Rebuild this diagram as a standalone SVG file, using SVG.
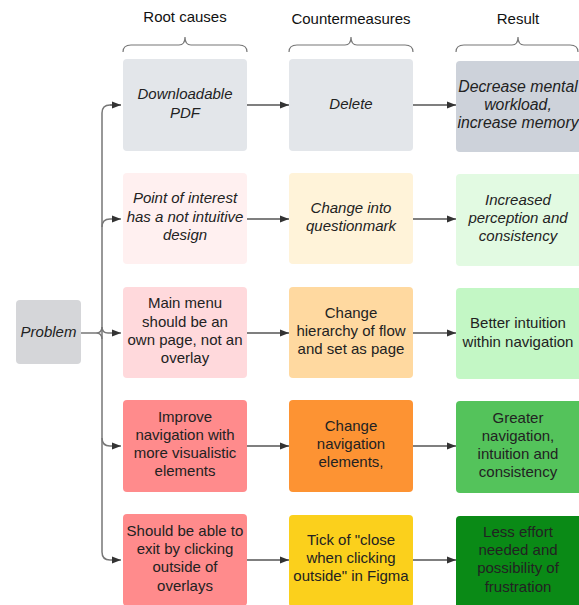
<svg xmlns="http://www.w3.org/2000/svg" width="579" height="605" viewBox="0 0 579 605">
<defs>
<marker id="ah" markerUnits="userSpaceOnUse" markerWidth="10" markerHeight="8" refX="9" refY="4" orient="auto">
<path d="M0,0.5 L9,4 L0,7.5 z" fill="#333"/>
</marker>
<style>
text{font-family:"Liberation Sans",Arial,sans-serif;font-size:15px;fill:#222;text-anchor:middle}
.i{font-style:italic}
.big{font-size:15.8px}
.h{fill:#111}
.brace{fill:none;stroke:#777;stroke-width:1.2}
.edge{fill:none;stroke:#555;stroke-width:1.4}
.trunk{fill:none;stroke:#777;stroke-width:1.5}
</style>
</defs>
<rect width="579" height="605" fill="#fff"/>

<g id="headers">
<text class="h" x="185" y="22">Root causes</text>
<text class="h" x="351" y="24">Countermeasures</text>
<text class="h" x="518" y="24">Result</text>
<path class="brace" d="M123,52 Q123,45 131,45 H179 Q185,45 185,37 Q185,45 191,45 H239 Q247,45 247,52"/>
<path class="brace" d="M289,52 Q289,45 297,45 H345 Q351,45 351,37 Q351,45 357,45 H405 Q413,45 413,52"/>
<path class="brace" d="M456,52 Q456,45 464,45 H512 Q518,45 518,37 Q518,45 524,45 H570 Q578,45 578,52"/>
</g>

<g id="connectors">
<path class="trunk" d="M81,333 H96 Q102,333 102,327 M96,333 Q102,333 102,339"/>
<path class="trunk" d="M121,105 H110 Q102,105 102,113 V552 Q102,560 110,560 H121" marker-end="url(#ah)"/>
<path class="trunk" d="M102,227 Q102,219 110,219 H121" marker-end="url(#ah)"/>
<path class="trunk" d="M102,327 Q102,333 108,333 H121" marker-end="url(#ah)"/>
<path class="trunk" d="M102,438 Q102,446 110,446 H121" marker-end="url(#ah)"/>
<path class="trunk" d="M110,105 H121" marker-end="url(#ah)"/>
<path class="edge" d="M247,105 H289" marker-end="url(#ah)"/>
<path class="edge" d="M413,105 H456" marker-end="url(#ah)"/>
<path class="edge" d="M247,219 H289" marker-end="url(#ah)"/>
<path class="edge" d="M413,219 H456" marker-end="url(#ah)"/>
<path class="edge" d="M247,333 H289" marker-end="url(#ah)"/>
<path class="edge" d="M413,333 H456" marker-end="url(#ah)"/>
<path class="edge" d="M247,446 H289" marker-end="url(#ah)"/>
<path class="edge" d="M413,446 H456" marker-end="url(#ah)"/>
<path class="edge" d="M247,560 H289" marker-end="url(#ah)"/>
<path class="edge" d="M413,560 H456" marker-end="url(#ah)"/>
</g>

<g id="problem">
<rect x="16" y="300" width="65" height="64" rx="4" fill="#d5d6d9"/>
<text class="i" x="48.5" y="337">Problem</text>
</g>

<g id="r1-cause">
<rect x="123" y="59" width="124" height="92" rx="4" fill="#e3e6ea"/>
<text class="i" x="185" y="99">Downloadable</text>
<text class="i" x="185" y="118">PDF</text>
</g>
<g id="r1-counter">
<rect x="289" y="59" width="124" height="92" rx="4" fill="#e3e6ea"/>
<text class="i" x="351" y="109">Delete</text>
</g>
<g id="r1-result">
<rect x="456" y="61" width="126" height="91" rx="4" fill="#cdd2da"/>
<text class="i big" x="518" y="92">Decrease mental</text>
<text class="i big" x="518" y="110">workload,</text>
<text class="i big" x="518" y="128">increase memory</text>
</g>

<g id="r2-cause">
<rect x="123" y="173" width="124" height="91" rx="4" fill="#fff0f0"/>
<text class="i" x="185" y="203">Point of interest</text>
<text class="i" x="185" y="222">has a not intuitive</text>
<text class="i" x="185" y="240">design</text>
</g>
<g id="r2-counter">
<rect x="289" y="173" width="124" height="91" rx="4" fill="#fff3d9"/>
<text class="i" x="351" y="213">Change into</text>
<text class="i" x="351" y="231">questionmark</text>
</g>
<g id="r2-result">
<rect x="456" y="174" width="126" height="92" rx="4" fill="#e2fae2"/>
<text class="i" x="518" y="205">Increased</text>
<text class="i" x="518" y="223">perception and</text>
<text class="i" x="518" y="241">consistency</text>
</g>

<g id="r3-cause">
<rect x="123" y="287" width="124" height="91" rx="4" fill="#ffd9dc"/>
<text x="185" y="308">Main menu</text>
<text x="185" y="327">should be an</text>
<text x="185" y="345">own page, not an</text>
<text x="185" y="363">overlay</text>
</g>
<g id="r3-counter">
<rect x="289" y="287" width="124" height="91" rx="4" fill="#ffd9a0"/>
<text x="351" y="318">Change</text>
<text x="351" y="336">hierarchy of flow</text>
<text x="351" y="354">and set as page</text>
</g>
<g id="r3-result">
<rect x="456" y="288" width="126" height="91" rx="4" fill="#c3f7c5"/>
<text x="518" y="328">Better intuition</text>
<text x="518" y="347">within navigation</text>
</g>

<g id="r4-cause">
<rect x="123" y="400" width="124" height="92" rx="4" fill="#ff8b8c"/>
<text x="185" y="422">Improve</text>
<text x="185" y="440">navigation with</text>
<text x="185" y="458">more visualistic</text>
<text x="185" y="476">elements</text>
</g>
<g id="r4-counter">
<rect x="289" y="400" width="124" height="92" rx="4" fill="#fd9333"/>
<text x="351" y="431">Change</text>
<text x="351" y="449">navigation</text>
<text x="351" y="467">elements,</text>
</g>
<g id="r4-result">
<rect x="456" y="401" width="126" height="92" rx="4" fill="#54c35b"/>
<text x="518" y="423">Greater</text>
<text x="518" y="441">navigation,</text>
<text x="518" y="459">intuition and</text>
<text x="518" y="477">consistency</text>
</g>

<g id="r5-cause">
<rect x="123" y="514" width="124" height="92" rx="4" fill="#ff8b8c"/>
<text x="185" y="536">Should be able to</text>
<text x="185" y="554">exit by clicking</text>
<text x="185" y="572">outside of</text>
<text x="185" y="591">overlays</text>
</g>
<g id="r5-counter">
<rect x="289" y="515" width="124" height="92" rx="4" fill="#fbd01c"/>
<text x="351" y="545">Tick of "close</text>
<text x="351" y="563">when clicking</text>
<text x="351" y="581">outside" in Figma</text>
</g>
<g id="r5-result">
<rect x="456" y="516" width="126" height="92" rx="4" fill="#0a8a16"/>
<text x="518" y="537">Less effort</text>
<text x="518" y="555">needed and</text>
<text x="518" y="573">possibility of</text>
<text x="518" y="592">frustration</text>
</g>
</svg>
